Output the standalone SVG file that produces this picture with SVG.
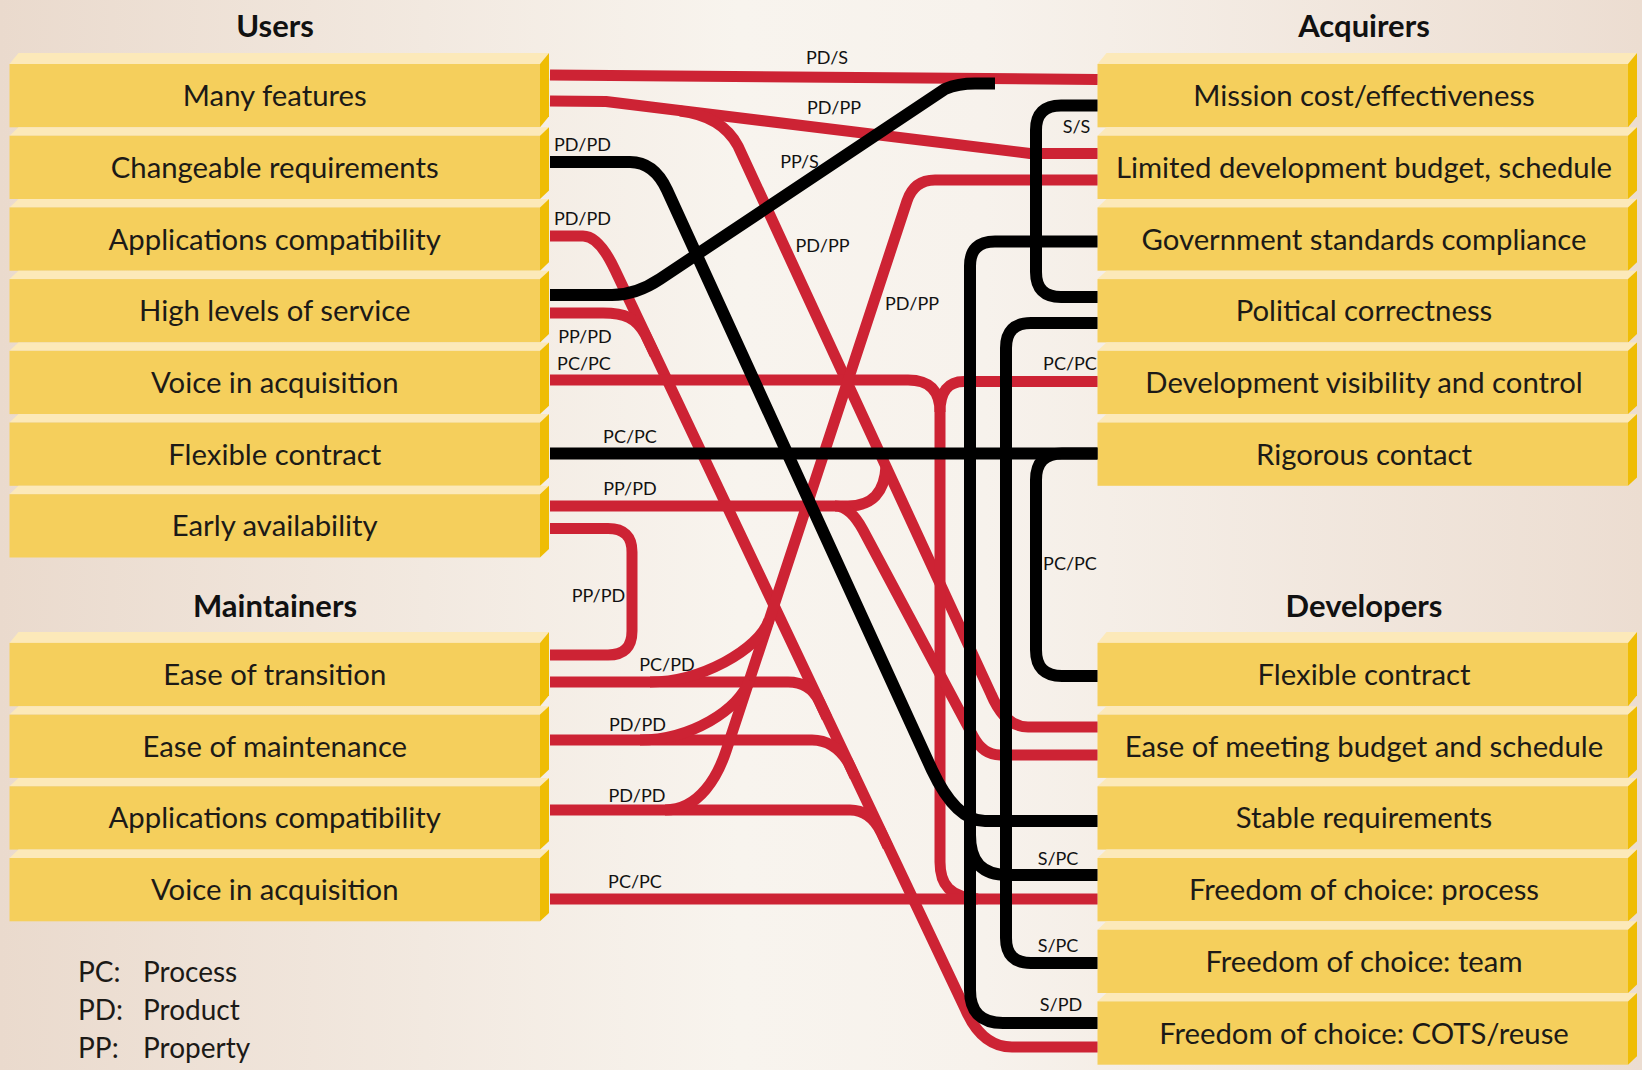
<svg xmlns="http://www.w3.org/2000/svg" xmlns:xlink="http://www.w3.org/1999/xlink" width="1642" height="1070" viewBox="0 0 1642 1070">
<style>
.top{fill:#fce9b9}
.side{fill:#efbd05}
.front{fill:#f5cf5c}
.bt{font-family:Lato,"Open Sans",sans-serif;font-size:29.3px;fill:#1c1a17;text-anchor:middle}
.hd{font-family:Lato,"Open Sans",sans-serif;font-size:31px;font-weight:bold;fill:#111;text-anchor:middle}
.red{fill:none;stroke:#cd2334;stroke-width:11;stroke-linejoin:round}
.blk{fill:none;stroke:#000;stroke-width:12;stroke-linejoin:round}
.cl{font-family:Lato,"Open Sans",sans-serif;font-size:18px;fill:#111;text-anchor:middle}
.lg{font-family:Lato,"Open Sans",sans-serif;font-size:28px;fill:#1c1a17}
</style>
<defs>
<linearGradient id="bg" x1="0" y1="0" x2="1" y2="0">
<stop offset="0" stop-color="#eadacd"/>
<stop offset="0.45" stop-color="#f8f4ee"/>
<stop offset="0.6" stop-color="#f7f2ec"/>
<stop offset="1" stop-color="#ecddd1"/>
</linearGradient>
<g id="box">
<polygon class="top" points="0,0 9,-8.4 539.5,-8.4 530.5,0"/>
<polygon class="side" points="530.5,0 539.5,-8.4 539.5,54.9 530.5,63.3"/>
<rect class="front" x="0" y="0" width="530.5" height="63.3"/>
</g>
<g id="box1">
<polygon class="top" points="0,0 9,-11 539.5,-11 530.5,0"/>
<polygon class="side" points="530.5,0 539.5,-11 539.5,52.3 530.5,63.3"/>
<rect class="front" x="0" y="0" width="530.5" height="63.3"/>
</g>
</defs>
<rect x="0" y="0" width="1642" height="1070" fill="url(#bg)"/>

<g id="headers">
<text class="hd" x="275" y="37">Users</text>
<text class="hd" x="275" y="617">Maintainers</text>
<text class="hd" x="1364" y="37">Acquirers</text>
<text class="hd" x="1364" y="617">Developers</text>
</g>

<g id="users">
<g id="u-many-features"><use xlink:href="#box1" x="9.5" y="64"/><text class="bt" x="274.75" y="106.2">Many features</text></g>
<g id="u-changeable-requirements"><use xlink:href="#box" x="9.5" y="135.7"/><text class="bt" x="274.75" y="177.9">Changeable requirements</text></g>
<g id="u-applications-compatibility"><use xlink:href="#box" x="9.5" y="207.4"/><text class="bt" x="274.75" y="249.6">Applications compatibility</text></g>
<g id="u-high-levels-of-service"><use xlink:href="#box" x="9.5" y="279.1"/><text class="bt" x="274.75" y="321.3">High levels of service</text></g>
<g id="u-voice-in-acquisition"><use xlink:href="#box" x="9.5" y="350.8"/><text class="bt" x="274.75" y="393">Voice in acquisition</text></g>
<g id="u-flexible-contract"><use xlink:href="#box" x="9.5" y="422.5"/><text class="bt" x="274.75" y="464.7">Flexible contract</text></g>
<g id="u-early-availability"><use xlink:href="#box" x="9.5" y="494.2"/><text class="bt" x="274.75" y="536.4">Early availability</text></g>
</g>

<g id="maintainers">
<g id="m-ease-of-transition"><use xlink:href="#box1" x="9.5" y="642.9"/><text class="bt" x="274.75" y="685">Ease of transition</text></g>
<g id="m-ease-of-maintenance"><use xlink:href="#box" x="9.5" y="714.6"/><text class="bt" x="274.75" y="756.7">Ease of maintenance</text></g>
<g id="m-applications-compatibility"><use xlink:href="#box" x="9.5" y="786.3"/><text class="bt" x="274.75" y="828.4">Applications compatibility</text></g>
<g id="m-voice-in-acquisition"><use xlink:href="#box" x="9.5" y="858"/><text class="bt" x="274.75" y="900.1">Voice in acquisition</text></g>
</g>

<g id="acquirers">
<g id="a-mission-cost"><use xlink:href="#box1" x="1097.5" y="64"/><text class="bt" x="1364" y="106.2">Mission cost/effectiveness</text></g>
<g id="a-limited-budget"><use xlink:href="#box" x="1097.5" y="135.7"/><text class="bt" x="1364" y="177.9">Limited development budget, schedule</text></g>
<g id="a-government-standards"><use xlink:href="#box" x="1097.5" y="207.4"/><text class="bt" x="1364" y="249.6">Government standards compliance</text></g>
<g id="a-political-correctness"><use xlink:href="#box" x="1097.5" y="279.1"/><text class="bt" x="1364" y="321.3">Political correctness</text></g>
<g id="a-development-visibility"><use xlink:href="#box" x="1097.5" y="350.8"/><text class="bt" x="1364" y="393">Development visibility and control</text></g>
<g id="a-rigorous-contact"><use xlink:href="#box" x="1097.5" y="422.5"/><text class="bt" x="1364" y="464.7">Rigorous contact</text></g>
</g>

<g id="developers">
<g id="d-flexible-contract"><use xlink:href="#box1" x="1097.5" y="642.9"/><text class="bt" x="1364" y="685">Flexible contract</text></g>
<g id="d-ease-of-meeting"><use xlink:href="#box" x="1097.5" y="714.6"/><text class="bt" x="1364" y="756.7">Ease of meeting budget and schedule</text></g>
<g id="d-stable-requirements"><use xlink:href="#box" x="1097.5" y="786.3"/><text class="bt" x="1364" y="828.4">Stable requirements</text></g>
<g id="d-freedom-process"><use xlink:href="#box" x="1097.5" y="858"/><text class="bt" x="1364" y="900.1">Freedom of choice: process</text></g>
<g id="d-freedom-team"><use xlink:href="#box" x="1097.5" y="929.7"/><text class="bt" x="1364" y="971.8">Freedom of choice: team</text></g>
<g id="d-freedom-cots"><use xlink:href="#box" x="1097.5" y="1001.4"/><text class="bt" x="1364" y="1043.5">Freedom of choice: COTS/reuse</text></g>
</g>

<g id="connectors">
<g id="red-links">
<path class="red" d="M550,75 L1097.5,79.5"/>
<path class="red" d="M550,101 L606,101.5 L1030,153.5 L1097.5,153.5"/>
<path class="red" d="M680,111 Q722,116 738,146 L991,694 Q1005,727 1028,727 L1097.5,727"/>
<path class="red" d="M550,236 L583,236 Q599,236 615,270 L965.7,1010 Q982,1047 1012,1047 L1097.5,1047"/>
<path class="red" d="M550,313 L603,313 C625,313 636,318 645,334 L655,355"/>
<path class="red" d="M550,380 L908,380 Q940,380 940,412 L940,862 C940,885 950,897 978,899"/>
<path class="red" d="M1097.5,381.5 L964,381.5 Q940,381.5 940,412"/>
<path class="red" d="M550,899 L1097.5,899"/>
<path class="red" d="M550,506 L848,506 Q884,506 886,466"/>
<path class="red" d="M835,506 Q850,506 863,530 L973,736 Q983,755 1000,755 L1097.5,755"/>
<path class="red" d="M550,528.5 L608,528.5 Q632,528.5 632,552 L632,631 Q632,655 608,655 L550,655"/>
<path class="red" d="M550,682 L788,682 Q810,682 819,701 L827,718"/>
<path class="red" d="M550,740 L812,740 Q834,740 848,762 L855,777"/>
<path class="red" d="M550,810 L850,810 Q870,810 881,832 L888,847"/>
<path class="red" d="M1097.5,180 L935,180 Q914,180 907,201 L726.4,750 C718.2,775 700,810 665,810"/>
<path class="red" d="M650,682 C700,682 759,650 769,620"/>
<path class="red" d="M640,740 C690,740 739.5,710 749.4,680"/>
</g>
<g id="black-links">
<path class="blk" d="M550,162 L630,162 Q654,162 667,190 L932,770 Q956,821 985,821 L1097.5,821"/>
<path class="blk" d="M550,295 L612,295 Q636,295 660,279 L945,89 Q958,83.5 975,83.5 L995,83.5"/>
<path class="blk" d="M550,453.5 L1097.5,453.5"/>
<path class="blk" d="M1097.5,105.5 L1061,105.5 Q1036,105.5 1036,130 L1036,272 Q1036,297 1061,297 L1097.5,297"/>
<path class="blk" d="M1097.5,241.5 L995,241.5 Q970,241.5 970,266 L970,990 Q970,1023 1003,1023 L1097.5,1023"/>
<path class="blk" d="M970,835 C970,862 982,875 1008,875 L1097.5,875"/>
<path class="blk" d="M1097.5,323 L1031,323 Q1006,323 1006,348 L1006,938 Q1006,963 1031,963 L1097.5,963"/>
<path class="blk" d="M1097.5,453.5 L1062,453.5 Q1036,453.5 1036,480 L1036,650 Q1036,676 1062,676 L1097.5,676"/>
</g>
<g id="link-labels">
<text class="cl" x="827" y="64">PD/S</text>
<text class="cl" x="834" y="114">PD/PP</text>
<text class="cl" x="582.5" y="151">PD/PD</text>
<text class="cl" x="799.5" y="168">PP/S</text>
<text class="cl" x="582.5" y="225">PD/PD</text>
<text class="cl" x="822.5" y="251.5">PD/PP</text>
<text class="cl" x="912" y="310">PD/PP</text>
<text class="cl" x="585" y="343">PP/PD</text>
<text class="cl" x="584" y="370">PC/PC</text>
<text class="cl" x="630" y="443">PC/PC</text>
<text class="cl" x="630" y="495">PP/PD</text>
<text class="cl" x="598.5" y="601.5">PP/PD</text>
<text class="cl" x="667" y="670.5">PC/PD</text>
<text class="cl" x="637.5" y="730.5">PD/PD</text>
<text class="cl" x="637" y="801.5">PD/PD</text>
<text class="cl" x="635" y="888">PC/PC</text>
<text class="cl" x="1076.5" y="133">S/S</text>
<text class="cl" x="1070" y="370">PC/PC</text>
<text class="cl" x="1070" y="570">PC/PC</text>
<text class="cl" x="1058" y="865">S/PC</text>
<text class="cl" x="1058" y="951.5">S/PC</text>
<text class="cl" x="1061" y="1010.5">S/PD</text>
</g>
</g>

<g id="legend">
<text class="lg" x="78" y="981.5">PC:</text><text class="lg" x="143" y="981.5">Process</text>
<text class="lg" x="78" y="1020">PD:</text><text class="lg" x="143" y="1020">Product</text>
<text class="lg" x="78" y="1057.5">PP:</text><text class="lg" x="143" y="1057.5">Property</text>
</g>
</svg>
